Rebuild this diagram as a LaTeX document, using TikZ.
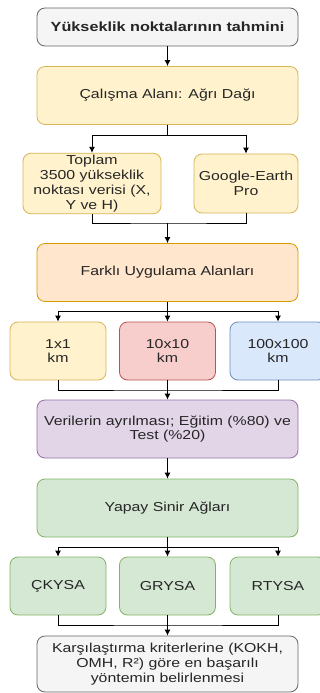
\documentclass[tikz,border=0pt]{standalone}
\usepackage{fontspec}
\setmainfont{Liberation Sans}[FakeStretch=1.22]
\usetikzlibrary{arrows.meta}
\definecolor{grayfill}{HTML}{F5F5F5}
\definecolor{graydraw}{HTML}{666666}
\definecolor{yelfill}{HTML}{FFF2CC}
\definecolor{yeldraw}{HTML}{D6B656}
\definecolor{orafill}{HTML}{FFE6CC}
\definecolor{oradraw}{HTML}{D79B00}
\definecolor{redfill}{HTML}{F8CECC}
\definecolor{reddraw}{HTML}{B85450}
\definecolor{blufill}{HTML}{DAE8FC}
\definecolor{bludraw}{HTML}{6C8EBF}
\definecolor{purfill}{HTML}{E1D5E7}
\definecolor{purdraw}{HTML}{9673A6}
\definecolor{grefill}{HTML}{D5E8D4}
\definecolor{gredraw}{HTML}{82B366}
\begin{document}
\begin{tikzpicture}[x=1pt, y=-1pt,
    box/.style={draw, rounded corners=8pt, line width=0.8pt, align=center,
      inner sep=2pt, text=black!85, font=\fontsize{13}{14.8}\selectfont},
    wide/.style={box, minimum width=261pt, minimum height=58pt},
    small/.style={box, minimum width=96pt, minimum height=58pt},
    gr/.style={fill=grayfill, draw=graydraw},
    ye/.style={fill=yelfill, draw=yeldraw},
    ora/.style={fill=orafill, draw=oradraw},
    re/.style={fill=redfill, draw=reddraw},
    bl/.style={fill=blufill, draw=bludraw},
    pu/.style={fill=purfill, draw=purdraw},
    ge/.style={fill=grefill, draw=gredraw},
    arr/.style={-{Latex[length=6pt,width=6pt]}, line width=0.9pt},
    line/.style={line width=0.9pt}]
  \clip (0,0) rectangle (320,693);
  \fill[white] (0,0) rectangle (320,693);

  \node[wide, gr, minimum height=38pt, font=\fontsize{13.3}{14.8}\selectfont\bfseries] (tahmin) at (167.5,27) {Yükseklik noktalarının tahmini};
  \node[wide, ye] (calisma) at (167.5,95.5) {Çalışma Alanı: Ağrı Dağı};
  \node[box, ye, minimum width=138pt, minimum height=59pt] (toplam) at (92,183.5) {Toplam\\3500 yükseklik\\noktası verisi (X,\\Y ve H)};
  \node[box, ye, minimum width=104pt, minimum height=59pt] (google) at (246,183.5) {Google-Earth\\Pro};
  \node[wide, ora] (farkli) at (167.5,272.5) {Farklı Uygulama Alanları};
  \node[small, ye] (alan1) at (58,351) {1x1\\km};
  \node[small, re] (alan2) at (167.5,351) {10x10\\km};
  \node[small, bl] (alan3) at (278,351) {100x100\\km};
  \node[wide, pu] (ayrim) at (167.5,429) {Verilerin ayrılması; Eğitim (\%80) ve\\Test (\%20)};
  \node[wide, ge] (ysa) at (167.5,508) {Yapay Sinir Ağları};
  \node[small, ge] (ckysa) at (58,586) {ÇKYSA};
  \node[small, ge] (grysa) at (167.5,586) {GRYSA};
  \node[small, ge] (rtysa) at (278,586) {RTYSA};
  \node[wide, gr, minimum height=56pt] (karsi) at (167.5,664) {Karşılaştırma kriterlerine (KOKH,\\OMH, R²) göre en başarılı\\yöntemin belirlenmesi};

  % forks and merges
  \coordinate (f1) at (167.5,135);
  \coordinate (m1) at (167.5,223);
  \coordinate (f2) at (167.5,311);
  \coordinate (m2) at (167.5,390);
  \coordinate (f3) at (167.5,547);
  \coordinate (m3) at (167.5,625);

  \draw[arr] (tahmin) -- (calisma);
  \draw[line] (calisma) -- (f1);
  \draw[arr] (f1) -| (toplam);
  \draw[arr] (f1) -| (google);
  \draw[line] (toplam) |- (m1) -| (google);
  \draw[arr] (m1) -- (farkli);
  \draw[line] (farkli) -- (f2);
  \draw[arr] (f2) -| (alan1);
  \draw[arr] (f2) -- (alan2);
  \draw[arr] (f2) -| (alan3);
  \draw[line] (alan1) |- (m2) -| (alan3);
  \draw[arr] (alan2) -- (ayrim);
  \draw[arr] (ayrim) -- (ysa);
  \draw[line] (ysa) -- (f3);
  \draw[arr] (f3) -| (ckysa);
  \draw[arr] (f3) -- (grysa);
  \draw[arr] (f3) -| (rtysa);
  \draw[line] (ckysa) |- (m3) -| (rtysa);
  \draw[arr] (grysa) -- (karsi);
\end{tikzpicture}
\end{document}
